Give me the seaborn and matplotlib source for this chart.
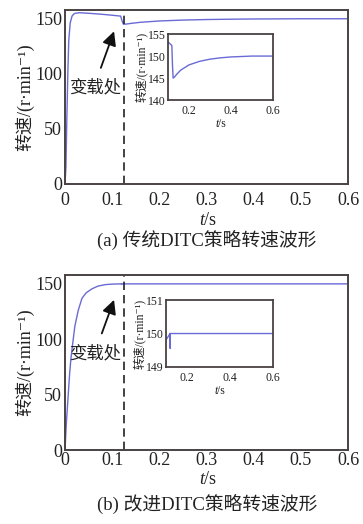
import matplotlib
matplotlib.use("Agg")
import matplotlib.pyplot as plt
import seaborn as sns
import pandas as pd

# ---- data ----
t_a = [0, 0.002, 0.004, 0.006, 0.008, 0.011, 0.015, 0.02, 0.03, 0.05, 0.08, 0.10, 0.118,
       0.121, 0.124, 0.13, 0.14, 0.16, 0.2, 0.25, 0.3, 0.35, 0.4, 0.5, 0.6]
v_a = [0, 15, 60, 100, 130, 146, 152.5, 154.8, 155.5, 155.0, 154.0, 153.2, 152.4,
       148, 145.0, 145.2, 145.8, 146.8, 148.0, 148.8, 149.3, 149.6, 149.8, 150.0, 150.0]

t_b = [0, 0.003, 0.0064, 0.01, 0.0127, 0.016, 0.021, 0.028, 0.036, 0.045, 0.057, 0.07,
       0.085, 0.10, 0.1195, 0.12, 0.1205, 0.13, 0.2, 0.4, 0.6]
v_b = [0, 25, 47, 70, 83, 95, 112, 126, 137, 142, 145.5, 148,
       149.3, 149.8, 150.0, 149.55, 150.0, 150.0, 150.0, 150.0, 150.0]

t_load = 0.125
xticks_main = [0, 0.1, 0.2, 0.3, 0.4, 0.5, 0.6]
yticks_main = [0, 50, 100, 150]
xticks_inset = [0.2, 0.4, 0.6]
yticks_inset_a = [140, 145, 150, 155]
yticks_inset_b = [149, 150, 151]

ylabel = "转速/(r·min⁻¹)"
annot = "变载处"
cap_a = "(a) 传统DITC策略转速波形"
cap_b = "(b) 改进DITC策略转速波形"

# ---- style ----
sns.set_theme(style="white")
FAM = ["Liberation Serif", "Noto Sans CJK SC", "DejaVu Sans"]
plt.rcParams["font.family"] = FAM
plt.rcParams["axes.unicode_minus"] = False

LINE = "#6a6ad6"
SPINE = "#4a4242"
TXT = "#222222"

fig = plt.figure(figsize=(3.63, 5.24), dpi=100)

df_a = pd.DataFrame({"t": t_a, "v": v_a})
df_b = pd.DataFrame({"t": t_b, "v": v_b})


def tlabel(ax, size, pad):
    # "t/s" with italic t
    ax.set_xlabel("")
    ax.annotate("t", xy=(0.5, 0), xycoords="axes fraction", xytext=(-1.5, -pad),
                textcoords="offset points", ha="right", va="top", fontsize=size,
                style="italic", family=FAM, color=TXT)
    ax.annotate("/s", xy=(0.5, 0), xycoords="axes fraction", xytext=(-1.5, -pad),
                textcoords="offset points", ha="left", va="top", fontsize=size,
                family=FAM, color=TXT)


def style_axes(ax, lw=1.4, size=13):
    for s in ax.spines.values():
        s.set_color(SPINE)
        s.set_linewidth(lw)
    ax.tick_params(direction="in", length=2, width=0.8, colors=TXT,
                   labelsize=size, pad=4)


def main_panel(rect, df, cap, cap_y, tick_pad, xl_pad, arrow_head, arrow_tail, text_xy):
    ax = fig.add_axes(rect)
    sns.lineplot(data=df, x="t", y="v", ax=ax, color=LINE, lw=1.0)
    ax.set_xlim(0, 0.6)
    ax.set_ylim(0, 158)
    ax.set_xticks(xticks_main)
    ax.set_xticklabels([f"{x:g}" for x in xticks_main])
    ax.set_yticks(yticks_main)
    ax.axvline(t_load, color=TXT, lw=1.2, ls=(0, (5, 3)))
    style_axes(ax)
    ax.tick_params(axis="y", pad=2)
    ax.tick_params(axis="x", pad=tick_pad)
    tlabel(ax, 13, xl_pad)
    ax.set_ylabel(ylabel, fontsize=13, labelpad=1, color=TXT)
    ax.annotate("", xy=arrow_head, xytext=arrow_tail,
                arrowprops=dict(arrowstyle="-|>,head_length=0.7,head_width=0.35",
                                color="#111111", lw=1.3))
    ax.text(text_xy[0], text_xy[1], annot, fontsize=12.5, ha="center", va="center",
            color=TXT)
    fig.text(0.57, cap_y, cap, fontsize=13.5, ha="center", va="center", color=TXT)
    return ax


def inset_panel(rect, df, ylim, yticks):
    ax = fig.add_axes(rect)
    sns.lineplot(data=df, x="t", y="v", ax=ax, color=LINE, lw=1.0)
    ax.set_xlim(0.1, 0.6)
    ax.set_ylim(*ylim)
    ax.set_xticks(xticks_inset)
    ax.set_xticklabels([f"{x:g}" for x in xticks_inset])
    ax.set_yticks(yticks)
    style_axes(ax, lw=1.3, size=8.5)
    ax.tick_params(length=0, pad=1.5)
    ax.tick_params(axis="x", pad=3.5)
    tlabel(ax, 8.5, 13)
    ax.set_ylabel(ylabel, fontsize=8.5, labelpad=0, color=TXT)
    return ax


main_panel([0.179, 0.649, 0.780, 0.332], df_a, cap_a, 1 - 240 / 524, 6.0, 20,
           arrow_head=(0.106, 141), arrow_tail=(0.074, 103), text_xy=(0.064, 87))
inset_panel([0.463, 0.809, 0.289, 0.126], df_a, (140, 155), yticks_inset_a)

main_panel([0.179, 0.1405, 0.780, 0.3347], df_b, cap_b, 1 - 504 / 524, 1.5, 14.5,
           arrow_head=(0.106, 138), arrow_tail=(0.076, 103), text_xy=(0.064, 87))
inset_panel([0.457, 0.300, 0.295, 0.127], df_b, (149, 151), yticks_inset_b)

fig.savefig("out.png", dpi=100, facecolor="white")
